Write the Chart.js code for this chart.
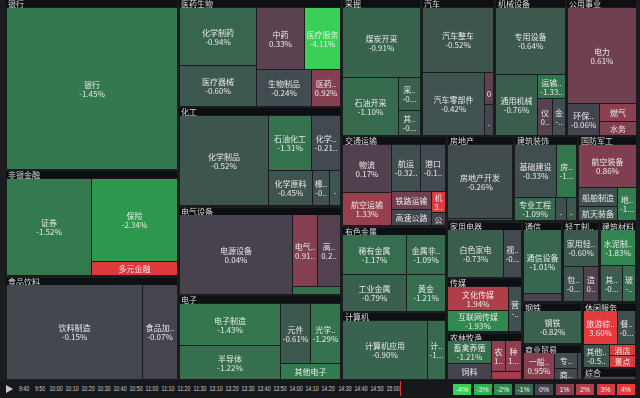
<!DOCTYPE html>
<html>
<head>
<meta charset="utf-8">
<script src="https://cdn.jsdelivr.net/npm/chart.js@4.4.0/dist/chart.umd.min.js"></script>
<style>
  body { margin: 0; background: #1b1c20; width: 640px; height: 398px; overflow: hidden; font-family: "Noto Sans CJK SC", sans-serif; }
  #wrap { position: relative; width: 640px; height: 380px; }
  #bar { position: relative; width: 640px; height: 18px; background: #17181b; color: #d0d0d0; }
  #bar .t { position: absolute; top: 4px; font-family: "Liberation Sans", sans-serif; font-size: 7.5px; line-height: 10px; transform: translateX(-50%) scaleX(0.7); white-space: nowrap; }
  #bar .play { position: absolute; left: 6px; top: 5px; width: 0; height: 0; border-left: 7px solid #c8c8c8; border-top: 4.5px solid transparent; border-bottom: 4.5px solid transparent; }
  #bar .now { position: absolute; left: 400px; top: 1px; width: 1px; height: 15px; background: #e03030; }
  #bar .lg { position: absolute; top: 4px; width: 18px; height: 11px; font-family: "Liberation Sans", sans-serif; font-size: 7px; line-height: 11px; text-align: center; color: #f0f0f0; }
</style>
</head>
<body>
<div id="wrap"><canvas id="map" width="640" height="380"></canvas></div>
<div id="bar"><div class="play"></div><div class="now"></div></div>
<script>
// --- 数据 ---
const sectorNames = ['银行', '非银金融', '食品饮料', '医药生物', '化工', '电气设备', '电子', '采掘', '汽车', '机械设备', '公用事业', '交通运输', '有色金属', '计算机', '房地产', '建筑装饰', '国防军工', '家用电器', '传媒', '农林牧渔', '通信', '轻工制造', '建筑材料', '钢铁', '商业贸易', '休闲服务', '综合'];
const sectorCaps = [29412, 18232, 17700, 17500, 16137, 14344, 13692, 10800, 10000, 9700, 9600, 9450, 8925, 7035, 5695, 5440, 5015, 4200, 4050, 3525, 3200, 2960, 3040, 2494, 2088, 3528, 650];

const industrySector = [
  '银行',
  '非银金融', '非银金融', '非银金融',
  '食品饮料', '食品饮料',
  '医药生物', '医药生物', '医药生物', '医药生物', '医药生物', '医药生物',
  '化工', '化工', '化工', '化工', '化工', '化工',
  '电气设备', '电气设备', '电气设备', '电气设备',
  '电子', '电子', '电子', '电子', '电子',
  '采掘', '采掘', '采掘', '采掘',
  '汽车', '汽车', '汽车', '汽车',
  '机械设备', '机械设备', '机械设备', '机械设备', '机械设备',
  '公用事业', '公用事业', '公用事业', '公用事业',
  '交通运输', '交通运输', '交通运输', '交通运输', '交通运输', '交通运输', '交通运输', '交通运输',
  '有色金属', '有色金属', '有色金属', '有色金属',
  '计算机', '计算机',
  '房地产', '房地产',
  '建筑装饰', '建筑装饰', '建筑装饰', '建筑装饰', '建筑装饰',
  '国防军工', '国防军工', '国防军工', '国防军工',
  '家用电器', '家用电器',
  '传媒', '传媒', '传媒',
  '农林牧渔', '农林牧渔', '农林牧渔', '农林牧渔', '农林牧渔',
  '通信', '通信',
  '轻工制造', '轻工制造', '轻工制造',
  '建筑材料', '建筑材料', '建筑材料',
  '钢铁',
  '商业贸易', '商业贸易', '商业贸易', '商业贸易',
  '休闲服务', '休闲服务', '休闲服务', '休闲服务', '休闲服务',
  '综合'
];
const industryNames = [
  '银行',
  '证券', '保险', '多元金融',
  '饮料制造', '食品加工',
  '化学制药', '医疗器械', '中药', '医疗服务', '生物制品', '医药商业',
  '化学制品', '石油化工', '化学纤维', '化学原料', '橡胶', '塑料',
  '电源设备', '电气自动化设备', '高低压设备', '电机',
  '电子制造', '半导体', '元件', '光学光电子', '其他电子',
  '煤炭开采', '石油开采', '采掘服务', '其他采掘',
  '汽车整车', '汽车零部件', '汽车服务', '其他交运设备',
  '专用设备', '通用机械', '运输设备', '仪器仪表', '金属制品',
  '电力', '环保工程及服务', '燃气', '水务',
  '物流', '航空运输', '航运', '港口', '铁路运输', '高速公路', '机场', '公交',
  '稀有金属', '工业金属', '金属非金属新材料', '黄金',
  '计算机应用', '计算机设备',
  '房地产开发', '园区开发',
  '基础建设', '房屋建设', '专业工程', '装修装饰', '园林工程',
  '航空装备', '船舶制造', '航天装备', '地面兵装',
  '白色家电', '视听器材',
  '文化传媒', '互联网传媒', '营销传播',
  '畜禽养殖', '饲料', '农产品加工', '种植业', '渔业',
  '通信设备', '通信运营',
  '家用轻工', '包装印刷', '造纸',
  '水泥制造', '其他建材', '玻璃制造',
  '钢铁',
  '一般零售', '专业零售', '商业物业经营', '贸易',
  '旅游综合', '餐饮', '其他休闲服务', '酒店', '景点',
  '综合'
];
const industryCaps = [
  100,
  8245, 7138, 1204,
  12920, 3325,
  4466, 3157, 2961, 2268, 1980, 1044,
  8099, 2420, 1600, 1550, 612, 396,
  9266, 1850, 1702, 384,
  4242, 3434, 1800, 1800, 960,
  5460, 3248, 726, 550,
  4680, 3906, 320, 300,
  4556, 2501, 648, 518, 481,
  7008, 1088, 702, 546,
  2500, 1700, 1450, 1250, 756, 672, 300, 200,
  2624, 2496, 1640, 1560,
  5185, 1159,
  5025, 200,
  2365, 1155, 1008, 264, 264,
  2655, 800, 600, 646,
  2850, 900,
  1550, 1364, 611,
  1056, 704, 480, 512, 240,
  2535, 351,
  1450, 814, 555,
  1430, 912, 532,
  100,
  870, 391, 276, 100,
  1254, 667, 667, 340, 320,
  100
];
const industryChanges = [
  -1.45,
  -1.52, -2.34, 3.45,
  -0.15, -0.07,
  -0.94, -0.60, 0.33, -4.11, -0.24, 0.92,
  -0.52, -1.31, -0.21, -0.45, -0.36, -0.48,
  0.04, 0.91, 0.21, -1.26,
  -1.43, -1.22, -0.61, -1.29, -1.55,
  -0.91, -1.10, -0.83, -0.74,
  -0.52, -0.42, 0.35, -0.08,
  -0.64, -0.76, -1.33, 0.25, -0.31,
  0.61, -0.06, 1.02, 0.88,
  0.17, 1.33, -0.32, -0.19, 0.64, -0.12, 3.21, 0.05,
  -1.17, -0.79, -1.09, -1.21,
  -0.90, -1.05,
  -0.26, -0.52,
  -0.33, -1.42, -1.09, -0.34, -0.61,
  0.86, -0.37, -0.45, -1.58,
  -0.73, -0.22,
  1.94, -1.93, -0.35,
  -1.21, 0.02, 1.12, 1.13, 1.52,
  -1.01, 0.12,
  -0.60, -0.42, 0.18,
  -1.83, -0.73, -1.20,
  -0.82,
  0.95, -0.30, -0.18, 0.02,
  3.60, -0.38, -0.55, 3.12, 3.25,
  -0.05
];
const timeLabels = ['9:40', '9:50', '10:00', '10:10', '10:20', '10:30', '10:40', '10:50', '11:00', '11:10', '11:20', '11:30', '13:10', '13:20', '13:30', '13:40', '13:50', '14:00', '14:10', '14:20', '14:30', '14:40', '14:50', '15:00'];
const legendSteps = [-4, -3, -2, -1, 0, 1, 2, 3, 4];

// --- 颜色 ---
const colorStops = [
  [-4, [58, 208, 88]], [-3, [46, 175, 80]], [-2, [47, 140, 78]], [-1, [55, 103, 78]],
  [0, [69, 66, 79]], [1, [138, 63, 80]], [2, [178, 62, 72]], [3, [215, 58, 62]], [4, [232, 56, 60]]
];
function changeColor(v) {
  const c = Math.max(-4, Math.min(4, v));
  for (let i = 0; i < colorStops.length - 1; i++) {
    const [a, ca] = colorStops[i];
    const [b, cb] = colorStops[i + 1];
    if (c >= a && c <= b) {
      const t = (c - a) / (b - a);
      const rgb = ca.map((x, k) => Math.round(x + (cb[k] - x) * t));
      return `rgb(${rgb.join(',')})`;
    }
  }
  return 'rgb(69,66,79)';
}
function fmtChange(v) { return v.toFixed(2) + '%'; }

// --- squarify 布局 (黄金比例) ---
const SQUARE_RATIO = 0.5 * (1 + Math.sqrt(5));
function worst(row, fixed) {
  let aMax = 0, aMin = Infinity;
  row.forEach(it => { if (it.area > aMax) aMax = it.area; if (it.area < aMin) aMin = it.area; });
  const sq = row.area * row.area;
  const f = fixed * fixed * SQUARE_RATIO;
  return sq ? Math.max(f * aMax / sq, sq / (f * aMin)) : Infinity;
}
function positionRow(row, fixed, r, hg, flush, out) {
  const horiz = fixed === r.w;
  const start = horiz ? r.x : r.y;
  const len = horiz ? r.w : r.h;
  let other = fixed ? row.area / fixed : 0;
  const avail = horiz ? r.h : r.w;
  if (flush || other > avail) other = avail;
  let last = start;
  row.forEach((it, i) => {
    const step = other ? it.area / other : 0;
    const remain = start + len - last;
    const mod = (i === row.length - 1 || remain < step) ? remain : step;
    if (horiz) out[it.i] = { x: last + hg, y: r.y + hg, w: mod - 2 * hg, h: other - 2 * hg };
    else out[it.i] = { x: r.x + hg, y: last + hg, w: other - 2 * hg, h: mod - 2 * hg };
    last += mod;
  });
  if (horiz) { r.y += other; r.h -= other; } else { r.x += other; r.w -= other; }
}
function squarify(values, rect, hg) {
  const total = values.reduce((s, v) => s + v, 0);
  const items = values.map((v, i) => ({ i, area: v / total * rect.w * rect.h }));
  const out = [];
  const r = { ...rect };
  let fixed = Math.min(r.w, r.h);
  let best = Infinity;
  let row = []; row.area = 0;
  for (let k = 0; k < items.length;) {
    row.push(items[k]); row.area += items[k].area;
    const score = worst(row, fixed);
    if (score <= best) { k++; best = score; }
    else {
      row.area -= row.pop().area;
      positionRow(row, fixed, r, hg, false, out);
      fixed = Math.min(r.w, r.h);
      row = []; row.area = 0; best = Infinity;
    }
  }
  if (row.length) positionRow(row, fixed, r, hg, true, out);
  return out;
}

// --- 文字截断 ---
function fitText(ctx, text, maxW) {
  if (ctx.measureText(text).width <= maxW) return text;
  for (let n = text.length - 1; n > 0; n--) {
    const t = text.slice(0, n) + '..';
    if (ctx.measureText(t).width <= maxW) return t;
  }
  for (let n = text.length - 1; n > 0; n--) {
    const t = text.slice(0, n);
    if (ctx.measureText(t).width <= maxW) return t;
  }
  return '';
}

const HEADER_H = 7;
const FONT = '"Noto Sans CJK SC", "Noto Sans", sans-serif';

const treemapPlugin = {
  id: 'treemap',
  beforeDatasetsDraw(chart) {
    const { ctx, scales: { x, y } } = chart;
    const px = (rx, ry) => [Math.round(x.getPixelForValue(rx)), Math.round(y.getPixelForValue(ry))];
    const fill = (rc, color) => {
      const [x0, y0] = px(rc.x, rc.y);
      const [x1, y1] = px(rc.x + rc.w, rc.y + rc.h);
      ctx.fillStyle = color;
      ctx.fillRect(x0, y0, x1 - x0, y1 - y0);
      return { x0, y0, x1, y1 };
    };
    ctx.save();
    ctx.textAlign = 'center';
    ctx.textBaseline = 'middle';
    ctx.font = '8px ' + FONT;

    const sectorRects = squarify(sectorCaps, { x: 5, y: -1, w: 632, h: 381 }, 1);
    sectorNames.forEach((sName, si) => {
      const sr = sectorRects[si];
      fill(sr, '#1a1b1f');
      const hb = fill({ x: sr.x, y: sr.y, w: sr.w, h: HEADER_H }, '#0e0f12');
      ctx.textAlign = 'left';
      ctx.fillStyle = '#dcdcdc';
      ctx.fillText(fitText(ctx, sName, hb.x1 - hb.x0 - 4), hb.x0 + 2, (hb.y0 + hb.y1) / 2 + 0.5);
      ctx.textAlign = 'center';

      const idx = [];
      industrySector.forEach((s, i) => { if (s === sName) idx.push(i); });
      const content = { x: sr.x, y: sr.y + HEADER_H, w: sr.w, h: sr.h - HEADER_H };
      const cells = squarify(idx.map(i => industryCaps[i]), content, 0.5);
      idx.forEach((ii, k) => {
        const b = fill(cells[k], changeColor(industryChanges[ii]));
        const w = b.x1 - b.x0, h = b.y1 - b.y0;
        if (h < 9 || w < 7) return;
        let lines = [industryNames[ii], fmtChange(industryChanges[ii])];
        if (h < 19) lines = lines.slice(0, 1);
        const cx = (b.x0 + b.x1) / 2, cy = (b.y0 + b.y1) / 2;
        ctx.fillStyle = '#e8e8e8';
        lines.forEach((ln, li) => {
          const t = fitText(ctx, ln, w - 3);
          ctx.fillText(t, cx, cy - (lines.length - 1) * 4.5 + li * 9 + 0.5);
        });
      });
    });
    ctx.restore();
  }
};

new Chart(document.getElementById('map'), {
  type: 'scatter',
  data: { datasets: [{ data: [] }] },
  options: {
    responsive: false,
    animation: false,
    layout: { padding: 0 },
    plugins: { legend: { display: false }, tooltip: { enabled: false } },
    scales: {
      x: { type: 'linear', min: 0, max: 640, display: false },
      y: { type: 'linear', min: 0, max: 380, reverse: true, display: false }
    }
  },
  plugins: [treemapPlugin]
});

// --- 底部时间轴和图例 ---
const bar = document.getElementById('bar');
timeLabels.forEach((t, i) => {
  const el = document.createElement('div');
  el.className = 't';
  el.style.left = (23.5 + i * 16.05) + 'px';
  el.textContent = t;
  bar.appendChild(el);
});
legendSteps.forEach((v, i) => {
  const el = document.createElement('div');
  el.className = 'lg';
  el.style.left = (453 + i * 20.5) + 'px';
  el.style.background = changeColor(v);
  el.textContent = v + '%';
  bar.appendChild(el);
});
</script>
</body>
</html>
